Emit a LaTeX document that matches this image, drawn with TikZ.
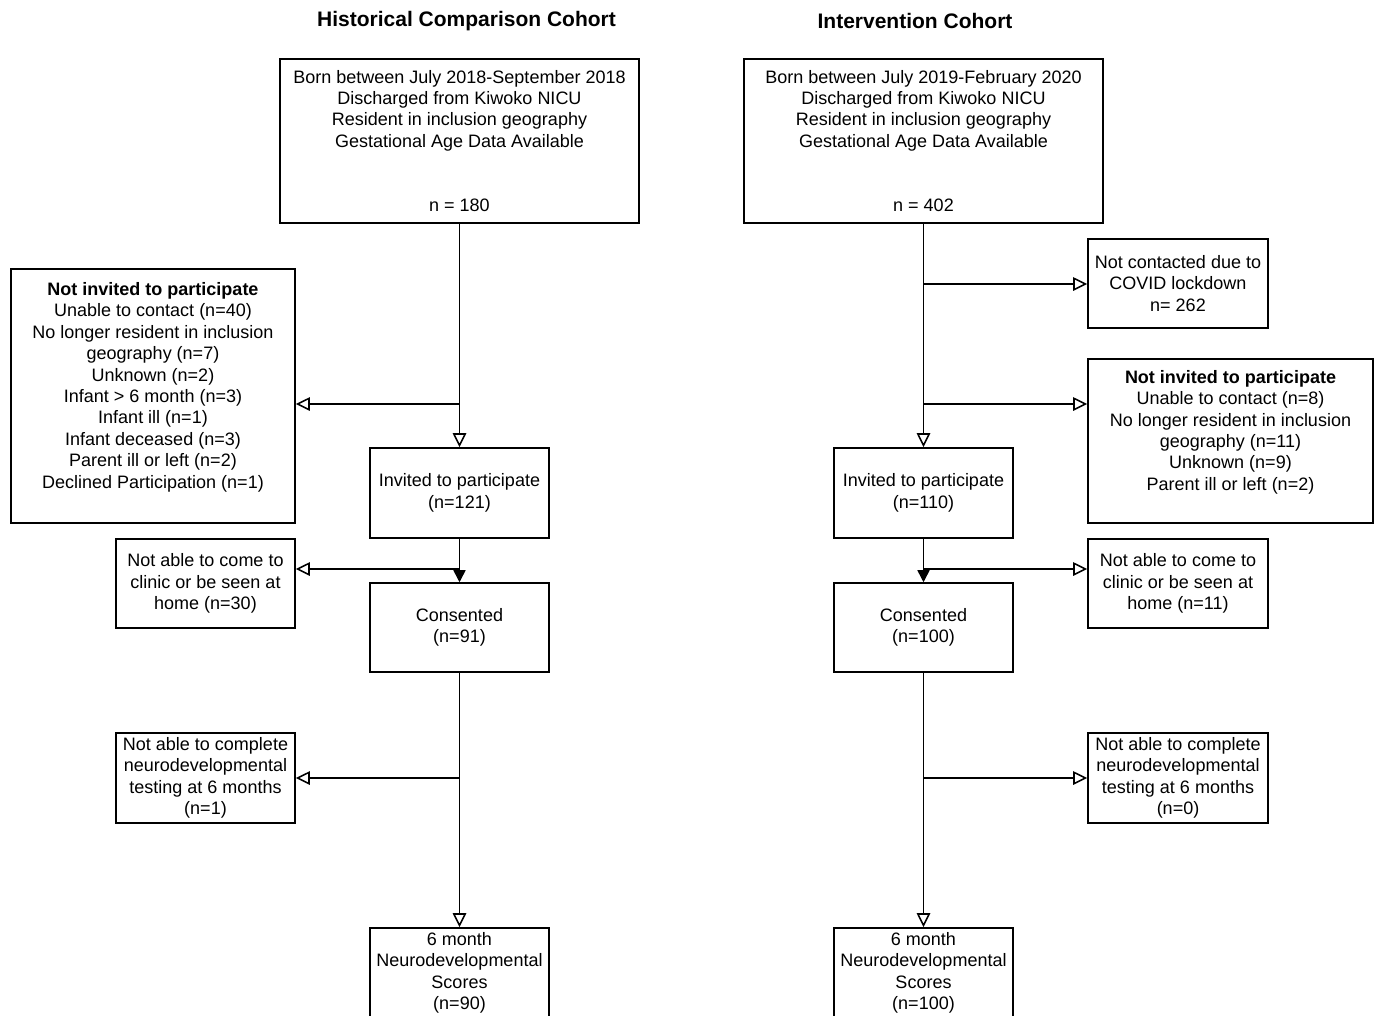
\documentclass[tikz,border=0pt]{standalone}
\usepackage{fontspec}
\setmainfont{Liberation Sans}
\usetikzlibrary{arrows.meta}
\begin{document}
\begin{tikzpicture}[x=0.75pt,y=-0.75pt,
  box/.style={draw, line width=1.15pt, rectangle, inner sep=0pt, align=center,
    font=\fontsize{13.5}{16.1}\selectfont},
  low/.style={execute at begin node={\rule{0pt}{13.5pt}}},
  sz/.style 2 args={minimum width=#1*0.75pt, minimum height=#2*0.75pt},
  oarr/.style={-{Triangle[open,length=10.5pt,width=10pt]}, line width=1.15pt},
  farr/.style={-{Triangle[length=9pt,width=9pt]}, line width=1.15pt},
  ttl/.style={font=\bfseries\fontsize{15.75}{18}\selectfont}]
\clip (0,0) rectangle (1375,1015);
\fill[white] (0,0) rectangle (1375,1015);

% titles
\node[ttl] (t1) at (466.5,21) {Historical Comparison Cohort};
\node[ttl] (t2) at (915,21) {Intervention Cohort};

% left column
\node[box, sz={359}{164}] (topL) at (459.5,141) {Born between July 2018-September 2018\\Discharged from Kiwoko NICU\\Resident in inclusion geography\\Gestational Age Data Available\\[32.2pt]n = 180};
\node[box, sz={284}{254}] (notinvL) at (153,396) {\textbf{Not invited to participate}\\Unable to contact (n=40)\\No longer resident in inclusion\\geography (n=7)\\Unknown (n=2)\\Infant > 6 month (n=3)\\Infant ill (n=1)\\Infant deceased (n=3)\\Parent ill or left (n=2)\\Declined Participation (n=1)\\~};
\node[box, low, sz={179}{90}] (invL) at (459.5,493) {Invited to participate\\(n=121)};
\node[box, low, sz={179}{89}] (notableL) at (205.5,583.5) {Not able to come to\\clinic or be seen at\\home (n=30)};
\node[box, low, sz={179}{89}] (consL) at (459.5,627.5) {Consented\\(n=91)};
\node[box, low, sz={179}{90}] (notcompL) at (205.5,778) {Not able to complete\\neurodevelopmental\\testing at 6 months\\(n=1)};
\node[box, low, sz={179}{90}] (sixL) at (459.5,973) {6 month\\Neurodevelopmental\\Scores\\(n=90)};

% right column
\node[box, sz={359}{164}] (topR) at (923.5,141) {Born between July 2019-February 2020\\Discharged from Kiwoko NICU\\Resident in inclusion geography\\Gestational Age Data Available\\[32.2pt]n = 402};
\node[box, low, sz={180}{89}] (notcontR) at (1178,283.5) {Not contacted due to\\COVID lockdown\\n= 262};
\node[box, sz={285}{164}] (notinvR) at (1230.5,441) {\textbf{Not invited to participate}\\Unable to contact (n=8)\\No longer resident in inclusion\\geography (n=11)\\Unknown (n=9)\\Parent ill or left (n=2)\\~};
\node[box, low, sz={179}{90}] (invR) at (923.5,493) {Invited to participate\\(n=110)};
\node[box, low, sz={180}{89}] (notableR) at (1178,583.5) {Not able to come to\\clinic or be seen at\\home (n=11)};
\node[box, low, sz={179}{89}] (consR) at (923.5,627.5) {Consented\\(n=100)};
\node[box, low, sz={180}{90}] (notcompR) at (1178,778) {Not able to complete\\neurodevelopmental\\testing at 6 months\\(n=0)};
\node[box, low, sz={179}{90}] (sixR) at (923.5,973) {6 month\\Neurodevelopmental\\Scores\\(n=100)};

% left connectors
\coordinate (bL1) at (459.5,404);
\coordinate (bL2) at (459.5,569);
\coordinate (bL3) at (459.5,778);
\draw[oarr] (topL.south) -- (invL.north);
\draw[oarr] (bL1) -- (bL1 -| notinvL.east);
\draw[farr] (invL.south) -- (consL.north);
\draw[oarr] (bL2) -- (bL2 -| notableL.east);
\draw[oarr] (consL.south) -- (sixL.north);
\draw[oarr] (bL3) -- (bL3 -| notcompL.east);

% right connectors
\coordinate (bR0) at (923.5,284);
\coordinate (bR1) at (923.5,404);
\coordinate (bR2) at (923.5,569);
\coordinate (bR3) at (923.5,778);
\draw[oarr] (topR.south) -- (invR.north);
\draw[oarr] (bR0) -- (bR0 -| notcontR.west);
\draw[oarr] (bR1) -- (bR1 -| notinvR.west);
\draw[farr] (invR.south) -- (consR.north);
\draw[oarr] (bR2) -- (bR2 -| notableR.west);
\draw[oarr] (consR.south) -- (sixR.north);
\draw[oarr] (bR3) -- (bR3 -| notcompR.west);
\end{tikzpicture}
\end{document}
